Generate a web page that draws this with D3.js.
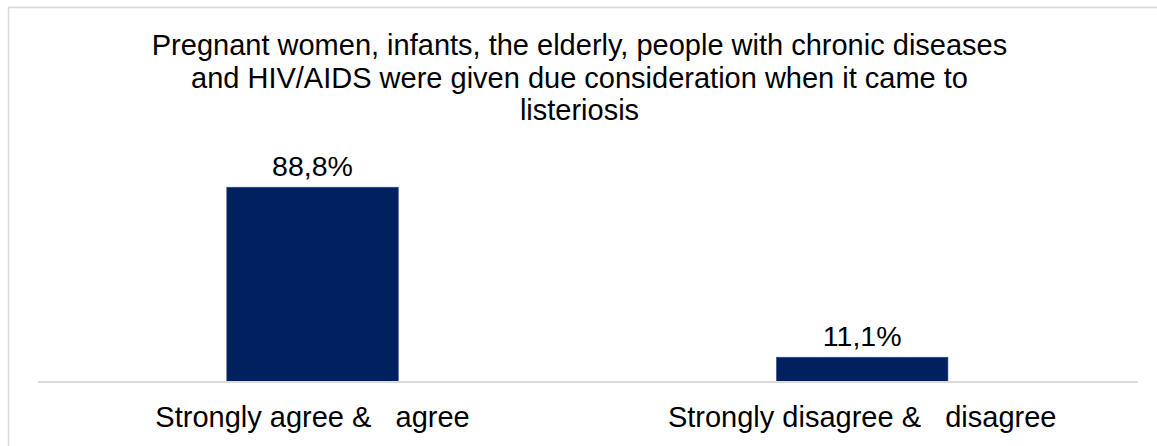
<!DOCTYPE html>
<html>
<head>
<meta charset="utf-8">
<script src="https://cdn.jsdelivr.net/npm/d3@7"></script>
<style>
  html, body { margin: 0; padding: 0; background: #fff; overflow: hidden; }
  text { font-family: "Liberation Sans", Arial, sans-serif; fill: #000; }
</style>
</head>
<body>
<svg id="chart" width="1157" height="446"></svg>
<script>
const titleLines = [
  "Pregnant women, infants, the elderly, people with chronic diseases",
  "and HIV/AIDS were given due consideration when it came to",
  "listeriosis"
];
const categories = ["Strongly agree &   agree", "Strongly disagree &   disagree"];
const values = [88.8, 11.1];
const valueLabels = ["88,8%", "11,1%"];

const svg = d3.select("#chart");

// outer frame
svg.append("rect")
  .attr("x", 8.5).attr("y", 7.5)
  .attr("width", 1170).attr("height", 460)
  .attr("fill", "#fff")
  .attr("stroke", "#d9d9d9").attr("stroke-width", 1.5);

const left = 37.7, right = 1137, baseY = 381.5;
const x = d3.scaleBand().domain(categories).range([left, right]).paddingInner(0.688).paddingOuter(0.344);
const y = d3.scaleLinear().domain([0, 100]).range([baseY, baseY - 218.8]);

// title
svg.append("g").selectAll("text").data(titleLines).join("text")
  .attr("x", 579.5)
  .attr("y", (d, i) => [55, 88, 120][i])
  .attr("text-anchor", "middle")
  .style("font-size", "29px")
  .text(d => d);

// bars
svg.append("g").selectAll("rect").data(values).join("rect")
  .attr("x", (d, i) => x(categories[i]))
  .attr("width", x.bandwidth())
  .attr("y", d => y(d))
  .attr("height", d => y(0) - y(d))
  .attr("fill", "#002060")
  .attr("stroke", "#2f4f8a").attr("stroke-width", 0.6);

// baseline axis
const axis = d3.axisBottom(x).tickSize(0).tickPadding(0).tickFormat(() => "");
const ax = svg.append("g").attr("transform", `translate(0,${baseY})`).call(axis);
ax.select(".domain").attr("stroke", "#d9d9d9").attr("stroke-width", 2);

// category labels
svg.append("g").selectAll("text").data(categories).join("text")
  .attr("x", d => x(d) + x.bandwidth() / 2)
  .attr("y", 426.5)
  .attr("text-anchor", "middle")
  .attr("xml:space", "preserve")
  .style("white-space", "pre")
  .style("font-size", "29px")
  .text(d => d);

// value labels
svg.append("g").selectAll("text").data(values).join("text")
  .attr("x", (d, i) => x(categories[i]) + x.bandwidth() / 2)
  .attr("y", d => y(d) - 11)
  .attr("text-anchor", "middle")
  .style("font-size", "28.5px")
  .text((d, i) => valueLabels[i]);
</script>
</body>
</html>
